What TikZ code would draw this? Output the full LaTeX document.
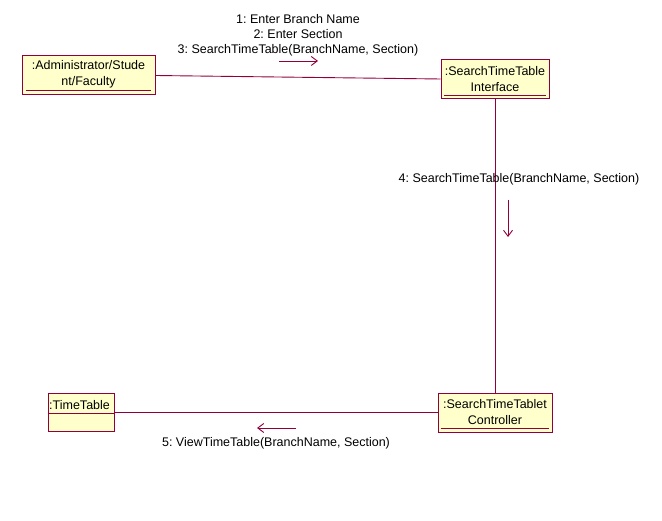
\documentclass[tikz,border=0pt]{standalone}
\usepackage{fontspec}
\setmainfont{Liberation Sans}
\usepackage{tikz}
\usetikzlibrary{calc,arrows.meta}
\definecolor{rose}{RGB}{145,0,60}
\definecolor{roseFill}{RGB}{255,255,204}
\frenchspacing
\tikzset{
  obj/.style={draw=rose, fill=roseFill, line width=0.9pt, inner sep=0pt, minimum height=39pt, align=center, font=\fontsize{12.5}{16}\selectfont},
  link/.style={draw=rose, line width=0.9pt},
  msg/.style={->, draw=rose, line width=0.9pt},
  lbl/.style={align=center, font=\fontsize{12.5}{15}\selectfont}
}
\begin{document}
\begin{tikzpicture}[x=1pt,y=-1pt,>={Straight Barb[length=6pt,width=9pt]}]
\useasboundingbox (0,0) rectangle (662,521);
% objects
\node[obj, minimum width=133pt] (admin) at (88.5,74.5) {:Administrator/Stude\\nt/Faculty};
\node[obj, minimum width=108pt] (iface) at (495,79) {:SearchTimeTable\\Interface};
\node[obj, minimum width=114pt] (ctrl) at (495,412.5) {:SearchTimeTablet\\Controller};
\node[obj, minimum width=66pt, minimum height=38pt] (tt) at (81,412) {};
\node[anchor=west, inner sep=0pt, font=\fontsize{12.5}{13}\selectfont] (ttname) at (49,405) {:TimeTable};
% underlines
\draw[link] ($(admin.south west)+(4,-4)$)--($(admin.south east)+(-4,-4)$);
\draw[link] ($(iface.south west)+(3,-3.5)$)--($(iface.south east)+(-3,-3.5)$);
\draw[link] ($(ctrl.south west)+(3,-4)$)--($(ctrl.south east)+(-3,-4)$);
\draw[link] (tt.west|-0,413)--(tt.east|-0,413);
% links
\draw[link] ([yshift=-1pt]admin.east)--(iface.west);
\draw[link] (iface.south)--(ctrl.north);
\draw[link] (tt.east)--(tt.east-|ctrl.west);
% messages
\node[lbl] (m1) at (298,35) {1: Enter Branch Name\\2: Enter Section\\3: SearchTimeTable(BranchName, Section)};
\coordinate (m1a) at (279,61); \coordinate (m1b) at (318,61); \draw[msg] (m1a)--(m1b);
\node[lbl] (m4) at (519,179) {4: SearchTimeTable(BranchName, Section)};
\coordinate (m4a) at (508,200); \coordinate (m4b) at (508,237); \draw[msg] (m4a)--(m4b);
\node[lbl] (m5) at (276,443) {5: ViewTimeTable(BranchName, Section)};
\coordinate (m5a) at (296,428); \coordinate (m5b) at (257,428); \draw[msg] (m5a)--(m5b);
\end{tikzpicture}
\end{document}
